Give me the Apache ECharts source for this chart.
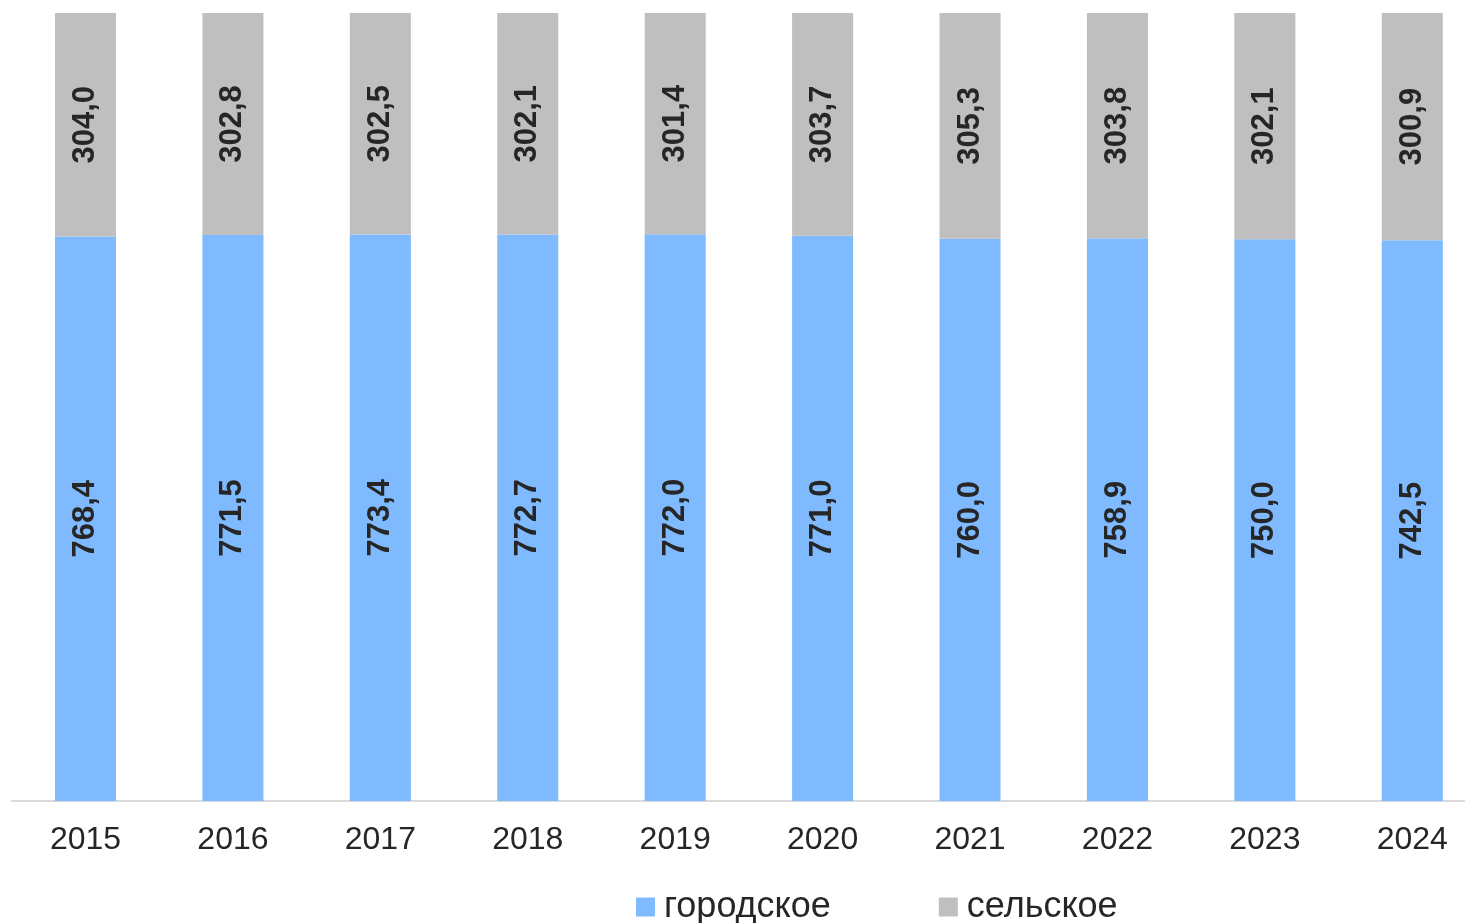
<!DOCTYPE html>
<html>
<head>
<meta charset="utf-8">
<script src="https://cdn.jsdelivr.net/npm/echarts@6/dist/echarts.min.js"></script>
<style>
html,body{margin:0;padding:0;background:#fff;overflow:hidden;width:1465px;height:923px;}
#chart{width:1487px;height:923px;}
</style>
</head>
<body>
<div id="chart"></div>
<script>
const years = ['2015','2016','2017','2018','2019','2020','2021','2022','2023','2024'];
const urban = [768.4,771.5,773.4,772.7,772.0,771.0,760.0,758.9,750.0,742.5];
const rural = [304.0,302.8,302.5,302.1,301.4,303.7,305.3,303.8,302.1,300.9];
const seriesNames = ['городское','сельское'];
const colors = ['#7fbaff','#bfbfbf'];

const totals = urban.map((u,i)=>u+rural[i]);
const urbanPct = urban.map((u,i)=>u/totals[i]*100);
const ruralPct = rural.map((r,i)=>r/totals[i]*100);
const fmt = v => v.toFixed(1).replace('.', ',');

const labelStyle = (raw) => ({
  show:true, position:'inside', rotate:90,
  fontFamily:'Liberation Sans', fontWeight:'bold', fontSize:31, color:'#262626',
  formatter: p => fmt(raw[p.dataIndex])
});

const chart = echarts.init(document.getElementById('chart'), null, {renderer:'canvas'});
chart.setOption({
  animation:false,
  grid:{left:11.8, right:1, top:13, bottom:122, containLabel:false},
  legend:{
    left:631, top:884, itemWidth:19, itemHeight:19, itemGap:108,
    icon:'rect',
    textStyle:{fontFamily:'Liberation Sans', fontSize:36, color:'#262626', padding:[0,0,0,4]},
    data:seriesNames
  },
  xAxis:{
    type:'category', data:years,
    axisLine:{show:true, lineStyle:{color:'#d9d9d9', width:2}},
    axisTick:{show:false},
    axisLabel:{fontFamily:'Liberation Sans', fontSize:32, color:'#262626', margin:23}
  },
  yAxis:{type:'value', min:0, max:100, show:false, splitLine:{show:false}},
  series:[
    {name:seriesNames[0], type:'bar', stack:'s', barWidth:'41.4%', data:urbanPct,
     itemStyle:{color:colors[0]}, label:labelStyle(urban)},
    {name:seriesNames[1], type:'bar', stack:'s', barWidth:'41.4%', data:ruralPct,
     itemStyle:{color:colors[1]}, label:labelStyle(rural)}
  ]
});
</script>
</body>
</html>
